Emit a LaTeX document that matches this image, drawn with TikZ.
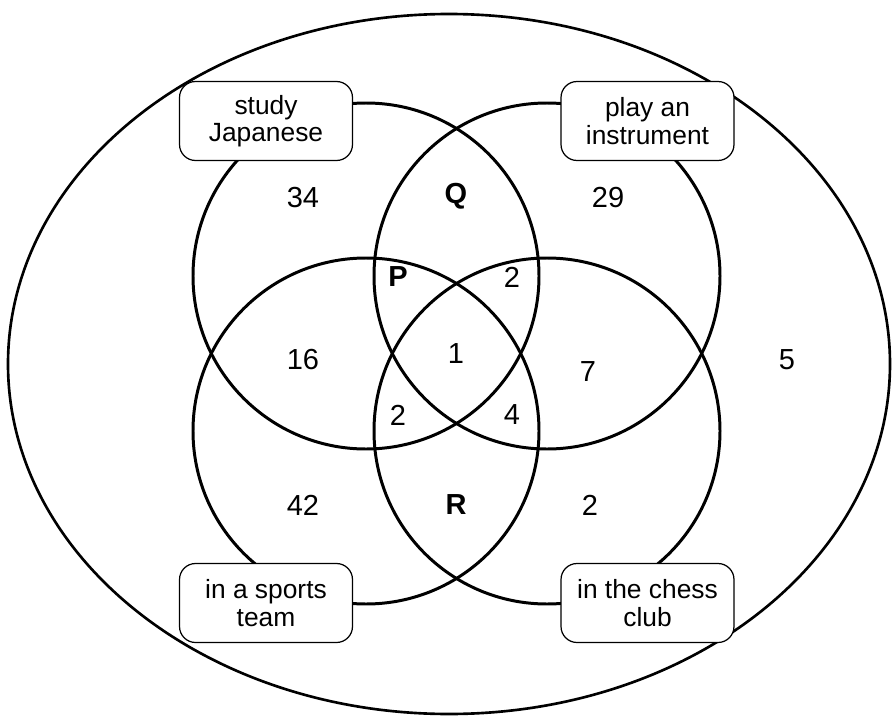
\documentclass[tikz,border=0pt]{standalone}
\usepackage{fontspec}
\setmainfont{Liberation Sans}
\tikzset{
    ring/.style={line width=1.7pt},
    labelbox/.style={draw, fill=white, line width=0.7pt, rounded corners=0.32cm,
        minimum width=3.46cm, minimum height=1.58cm, align=center,
        font=\fontsize{15}{15.6}\selectfont},
    count/.style={font=\fontsize{16.5}{18}\selectfont},
}
\begin{document}
\begin{tikzpicture}[x=0.02cm, y=-0.02cm]
    \useasboundingbox (0,0) rectangle (893,720);
    
    % 全集
    \draw[line width=1.5pt] (449,364) ellipse [x radius=441, y radius=350];
    
    % 四个圆
    \draw[ring] (366,276) circle [radius=173];
    \draw[ring] (547,276) circle [radius=173];
    \draw[ring] (366,431) circle [radius=173];
    \draw[ring] (547,431) circle [radius=173];
    
    % 标签
    \node[labelbox] (japanese) at (266,121) {study\\Japanese};
    \node[labelbox] (instrument) at (647.5,121) {play an\\instrument};
    \node[labelbox] (sports) at (266,603) {in a sports\\team};
    \node[labelbox] (chess) at (647.5,603) {in the chess\\club};
    
    % 各区域人数
    \node[count] (n34) at (303,198) {34};
    \node[count] (q) at (456,196) {\textbf{Q}};
    \node[count] (n29) at (608,198) {29};
    \node[count] (p) at (398,277) {\textbf{P}};
    \node[count] (n2a) at (512,277) {2};
    \node[count] (n16) at (303,360) {16};
    \node[count] (n1) at (456,354) {1};
    \node[count] (n7) at (588,372) {7};
    \node[count] (n5) at (787,360) {5};
    \node[count] (n2b) at (398,415) {2};
    \node[count] (n4) at (512,415) {4};
    \node[count] (n42) at (303,505) {42};
    \node[count] (r) at (456,505) {\textbf{R}};
    \node[count] (n2c) at (590,505) {2};
\end{tikzpicture}
\end{document}
